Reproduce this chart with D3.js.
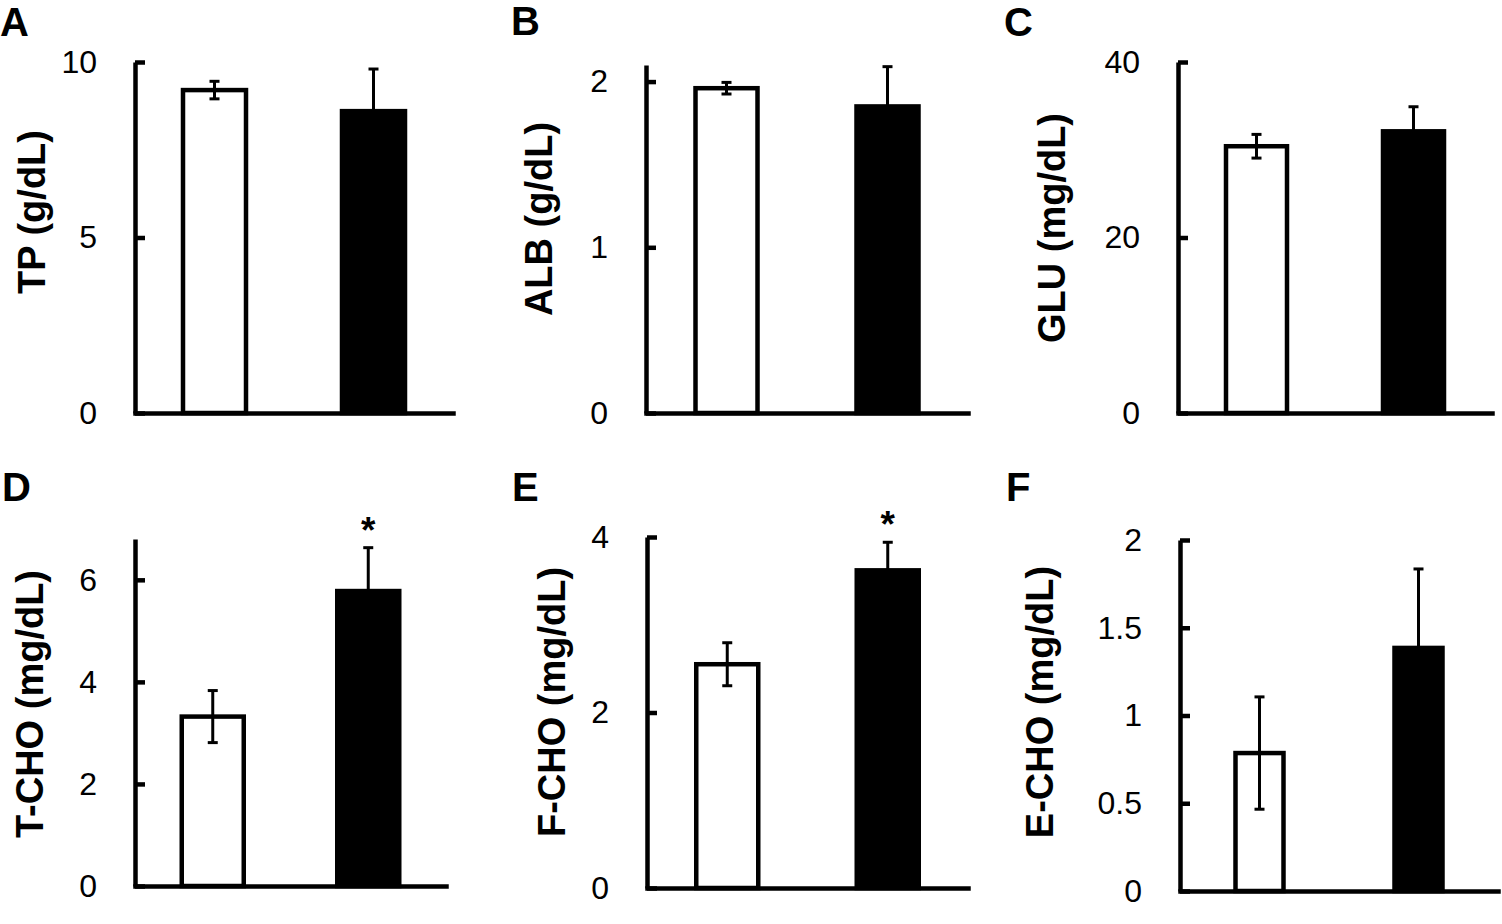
<!DOCTYPE html>
<html>
<head>
  <meta charset="UTF-8">
  <style>
    body { margin: 0; background: #fff; }
    svg text { font-family: "Liberation Sans", Arial, sans-serif; fill: #000; }
  </style>
</head>
<body>
<div id="chart"></div>

<script src="https://d3js.org/d3.v7.min.js"></script>
<script>

// data
const groups = ["Control", "Treated"];
const panelLetters = ["A", "B", "C", "D", "E", "F"];
const yTitles = ["TP (g/dL)", "ALB (g/dL)", "GLU (mg/dL)", "T-CHO (mg/dL)", "F-CHO (mg/dL)", "E-CHO (mg/dL)"];
const means = [
  [9.2, 8.6],
  [1.96, 1.85],
  [30.4, 32.1],
  [3.32, 5.78],
  [2.55, 3.62],
  [0.786, 1.385]
];
const errors = [
  [0.25, 1.2],
  [0.035, 0.24],
  [1.35, 2.8],
  [0.51, 0.85],
  [0.245, 0.32],
  [0.32, 0.45]
];
const significant = [
  [false, false],
  [false, false],
  [false, false],
  [false, true],
  [false, true],
  [false, false]
];
const yMax = [10, 2.1, 40, 6.8, 4, 2];
const tickValues = [
  [0, 5, 10],
  [0, 1, 2],
  [0, 20, 40],
  [0, 2, 4, 6],
  [0, 2, 4],
  [0, 0.5, 1, 1.5, 2]
];

// panel layout (pixels)
const layout = [
  {x0: 135, x1: 453, top: 62,  bot: 413, barW: 63, titleX: 45,   titleY: 212, lx: 0,    ly: 36},
  {x0: 646, x1: 968, top: 65,  bot: 413, barW: 62, titleX: 552,  titleY: 219, lx: 511,  ly: 35},
  {x0: 1178, x1: 1492, top: 62, bot: 413, barW: 61, titleX: 1065, titleY: 228, lx: 1004, ly: 36},
  {x0: 135, x1: 446, top: 539, bot: 886, barW: 62, titleX: 43,   titleY: 704, lx: 2,    ly: 501},
  {x0: 647, x1: 968, top: 537, bot: 888, barW: 62, titleX: 565,  titleY: 702, lx: 512,  ly: 501},
  {x0: 1180, x1: 1498, top: 540, bot: 891, barW: 48, titleX: 1053, titleY: 702, lx: 1006, ly: 501}
];

const width = 1502, height = 924;
const svg = d3.select("#chart")
  .append("svg")
  .attr("width", width)
  .attr("height", height);

layout.forEach((L, i) => {
  const g = svg.append("g");

  const x = d3.scalePoint().domain(groups).range([L.x0, L.x1]).padding(0.5);
  const y = d3.scaleLinear().domain([0, yMax[i]]).range([L.bot, L.top]);

  const rows = groups.map((k, j) => ({key: k, mean: means[i][j], se: errors[i][j], sig: significant[i][j], j: j}));

  // bars
  g.selectAll("rect.bar")
    .data(rows)
    .enter()
    .append("rect")
    .attr("class", "bar")
    .attr("x", d => x(d.key) - L.barW / 2)
    .attr("width", L.barW)
    .attr("y", d => y(d.mean))
    .attr("height", d => y(0) - y(d.mean))
    .attr("fill", d => d.j === 0 ? "#fff" : "#000")
    .attr("stroke", "#000")
    .attr("stroke-width", 4.5);

  // error bars
  const eb = g.selectAll("g.err")
    .data(rows)
    .enter()
    .append("g")
    .attr("class", "err")
    .attr("stroke", "#000")
    .attr("stroke-width", 3);
  eb.append("line")
    .attr("x1", d => x(d.key)).attr("x2", d => x(d.key))
    .attr("y1", d => y(d.mean - d.se)).attr("y2", d => y(d.mean + d.se));
  eb.append("line")
    .attr("x1", d => x(d.key) - 5).attr("x2", d => x(d.key) + 5)
    .attr("y1", d => y(d.mean + d.se)).attr("y2", d => y(d.mean + d.se));
  eb.append("line")
    .attr("x1", d => x(d.key) - 5).attr("x2", d => x(d.key) + 5)
    .attr("y1", d => y(d.mean - d.se)).attr("y2", d => y(d.mean - d.se));

  // significance marks
  g.selectAll("text.sig")
    .data(rows.filter(d => d.sig))
    .enter()
    .append("text")
    .attr("class", "sig")
    .attr("x", d => x(d.key))
    .attr("y", d => y(d.mean + d.se) - 5)
    .attr("text-anchor", "middle")
    .style("font-size", "37px")
    .style("font-weight", "bold")
    .text("*");

  // axes
  const yAxis = g.append("g")
    .attr("transform", `translate(${L.x0},0)`)
    .call(d3.axisLeft(y)
      .tickValues(tickValues[i])
      .tickFormat(d => String(d))
      .tickSizeInner(-10)
      .tickSizeOuter(0)
      .tickPadding(38));
  yAxis.select(".domain").attr("stroke-width", 4.5);
  yAxis.selectAll(".tick line").attr("stroke-width", 4.5);
  yAxis.selectAll(".tick text")
    .style("font-size", "32px")
    .style("font-family", "'Liberation Sans', Arial, sans-serif");

  const xAxis = g.append("g")
    .attr("transform", `translate(0,${L.bot})`)
    .call(d3.axisBottom(x).tickValues([]).tickSizeOuter(0));
  xAxis.select(".domain")
    .attr("stroke-width", 4.5)
    .attr("stroke-linecap", "square");

  // y title
  g.append("text")
    .attr("transform", `translate(${L.titleX},${L.titleY}) rotate(-90)`)
    .attr("text-anchor", "middle")
    .style("font-size", "38px")
    .style("font-weight", "bold")
    .text(yTitles[i]);

  // panel letter
  g.append("text")
    .attr("x", L.lx)
    .attr("y", L.ly)
    .style("font-size", "40px")
    .style("font-weight", "bold")
    .text(panelLetters[i]);
});

</script>
</body>
</html>
